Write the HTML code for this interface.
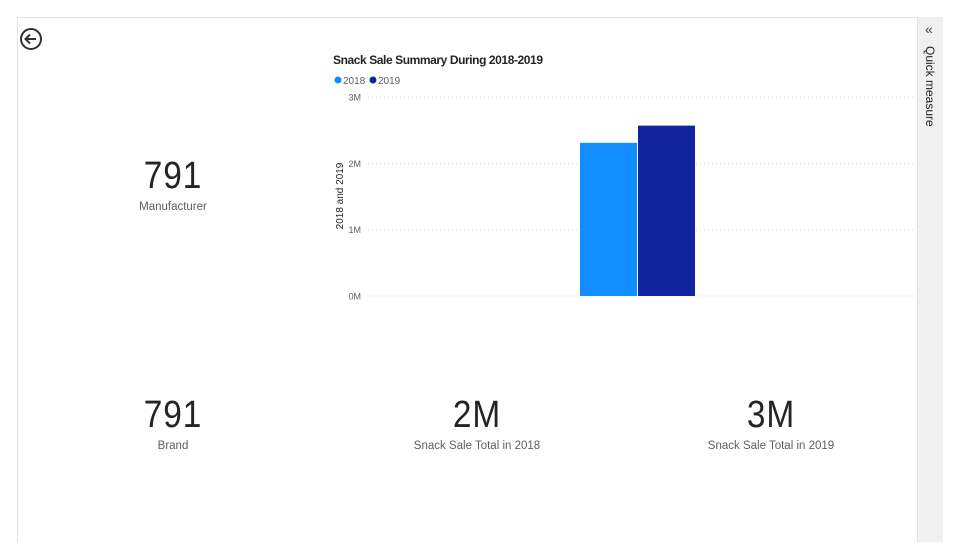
<!DOCTYPE html>
<html><head><meta charset="utf-8"><style>
body{margin:0;width:960px;height:555px;background:#fff;font-family:"Liberation Sans",sans-serif;position:relative;overflow:hidden}
.abs{position:absolute}
.card{text-align:center;color:#252423}
.big{font-size:38px;letter-spacing:1px;transform:scaleX(0.88)}
.lbl{font-size:11.5px;color:#605e5c;margin-top:3px}
</style></head><body>
<div class="abs" style="left:17px;top:17px;width:925px;height:525px;border:1px solid #e1e1e1;border-bottom:none;box-sizing:border-box"></div>
<div class="abs" style="left:917px;top:17px;width:25px;height:525px;background:#f0f0f0;border-left:1px solid #e1e1e1">
 <div class="abs" style="left:7px;top:4px;font-size:14px;color:#444">«</div>
 <div class="abs" style="left:5px;top:29px;writing-mode:vertical-rl;font-size:12px;color:#252423">Quick measure</div>
</div>
<svg class="abs" style="left:19px;top:27px" width="24" height="24" viewBox="0 0 24 24"><circle cx="12" cy="12" r="10" fill="none" stroke="#333" stroke-width="2"/><path d="M17 12H7M11 7.5L6.5 12 11 16.5" fill="none" stroke="#333" stroke-width="2"/></svg>

<div class="abs card" style="left:73px;top:155px;width:200px"><div class="big">791</div><div class="lbl">Manufacturer</div></div>
<div class="abs card" style="left:73px;top:394px;width:200px"><div class="big">791</div><div class="lbl">Brand</div></div>
<div class="abs card" style="left:377px;top:394px;width:200px"><div class="big">2M</div><div class="lbl">Snack Sale Total in 2018</div></div>
<div class="abs card" style="left:671px;top:394px;width:200px"><div class="big">3M</div><div class="lbl">Snack Sale Total in 2019</div></div>

<svg class="abs" id="chart" style="left:0;top:0" width="960" height="555">
 <text x="333" y="64" font-size="12" font-weight="bold" fill="#252423" textLength="210">Snack Sale Summary During 2018-2019</text>
 <circle cx="338" cy="80" r="3.5" fill="#118dff"/>
 <text x="343" y="84" font-size="10" fill="#605e5c">2018</text>
 <circle cx="373" cy="80" r="3.5" fill="#12239e"/>
 <text x="378" y="84" font-size="10" fill="#605e5c">2019</text>
 <text transform="translate(343,196) rotate(-90)" text-anchor="middle" font-size="10" fill="#252423">2018 and 2019</text>
 <g id="grid"></g><g id="bars"></g>
</svg>
<script>
const ticks=[0,1,2,3];
const tickLabels=["0M","1M","2M","3M"];
const series=["2018","2019"];
const values=[2.31,2.57];
const colors=["#118dff","#12239e"];
const y=v=>296-v*66.3;
const ns="http://www.w3.org/2000/svg";
const grid=document.getElementById('grid'),bars=document.getElementById('bars');
ticks.forEach((t,i)=>{
 const l=document.createElementNS(ns,'line');
 l.setAttribute('x1',368);l.setAttribute('x2',915);l.setAttribute('y1',y(t));l.setAttribute('y2',y(t));
 l.setAttribute('stroke','#d8d8d8');l.setAttribute('stroke-dasharray','1 3');
 
 
 grid.appendChild(l);
 const tx=document.createElementNS(ns,'text');
 tx.setAttribute('x',361);tx.setAttribute('y',y(t)+3.5);tx.setAttribute('text-anchor','end');
 tx.setAttribute('font-size','9');tx.setAttribute('fill','#605e5c');tx.textContent=tickLabels[i];
 
 
 grid.appendChild(tx);
});
values.forEach((v,i)=>{
 const r=document.createElementNS(ns,'rect');
 r.setAttribute('x',580+i*58);r.setAttribute('width',57);
 r.setAttribute('y',y(v));r.setAttribute('height',y(0)-y(v));r.setAttribute('fill',colors[i]);
 
 
 bars.appendChild(r);
});
</script>
</body></html>
